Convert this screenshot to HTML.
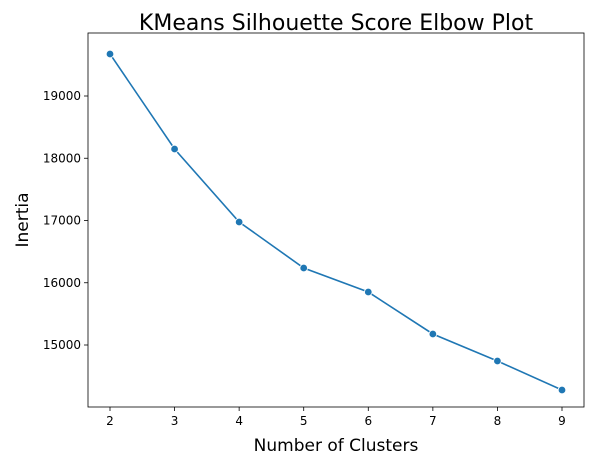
<!DOCTYPE html>
<html><head><meta charset="utf-8"><style>
body{margin:0;background:#fff;}
svg{display:block;font-family:"DejaVu Sans","Liberation Sans",sans-serif;}
</style></head><body>
<svg id="chart" width="594" height="465">
<text x="336" y="30" text-anchor="middle" font-size="22">KMeans Silhouette Score Elbow Plot</text>
<rect x="88" y="33" width="496" height="374" fill="none" stroke="#000" stroke-width="0.8"/>
<g id="xt"></g><g id="yt"></g><g id="series"></g>
<text x="336" y="451" text-anchor="middle" font-size="17">Number of Clusters</text>
<text transform="translate(28,220) rotate(-90)" text-anchor="middle" font-size="17">Inertia</text>
</svg>
<script>
const clusters=[2,3,4,5,6,7,8,9];
const inertia=[19675,18149,16976,16237,15851,15177,14743,14277];
const yTicks=[15000,16000,17000,18000,19000];
const NS="http://www.w3.org/2000/svg";
function sx(v){return 110+(v-2)*(562-110)/7;}
function sy(v){return 96+(19000-v)*(345-96)/4000;}
function mk(t,a,p){const e=document.createElementNS(NS,t);for(const k in a)e.setAttribute(k,a[k]);p.appendChild(e);return e;}
const xt=document.getElementById('xt'),yt=document.getElementById('yt'),sg=document.getElementById('series');
clusters.forEach(c=>{
 const l=mk('line',{x1:sx(c),x2:sx(c),y1:407,y2:411,stroke:'#000','stroke-width':0.8},xt);
 
 
 const t=mk('text',{x:sx(c),y:425,'text-anchor':'middle','font-size':12},xt);t.textContent=c;
 
 
});
yTicks.forEach(v=>{
 const l=mk('line',{x1:84,x2:88,y1:sy(v),y2:sy(v),stroke:'#000','stroke-width':0.8},yt);
 
 
 const t=mk('text',{x:81,y:sy(v)+4,'text-anchor':'end','font-size':12},yt);t.textContent=v;
 
 
});
const pl=mk('polyline',{points:clusters.map((c,i)=>sx(c)+','+sy(inertia[i])).join(' '),fill:'none',stroke:'#1f77b4','stroke-width':1.6},sg);


clusters.forEach((c,i)=>{
 const p=mk('circle',{cx:sx(c),cy:sy(inertia[i]),r:3.8,fill:'#1f77b4',stroke:'#fff','stroke-width':0.8},sg);
 
 
});
</script>
</body></html>
